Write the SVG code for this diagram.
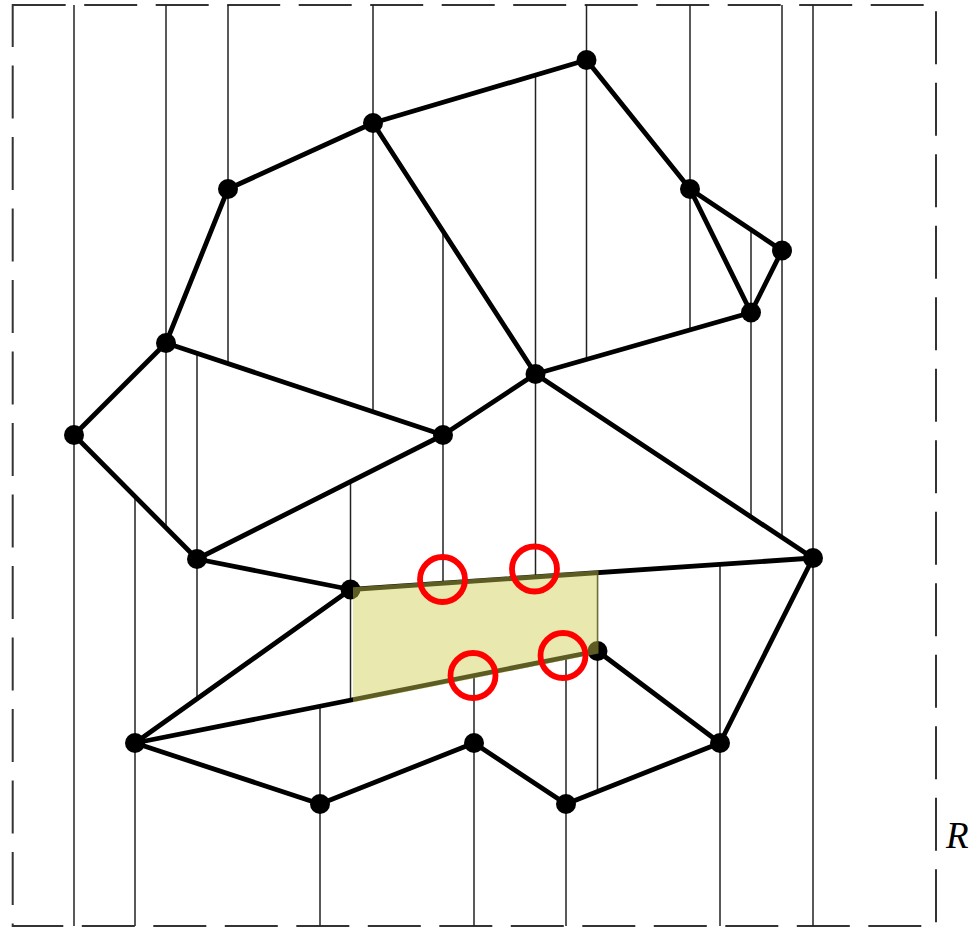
<svg xmlns="http://www.w3.org/2000/svg" width="978" height="928" viewBox="0 0 978 928">
<style>
.frame{fill:none;stroke:#333;stroke-width:2;stroke-dasharray:53 18.5}
.vl line{stroke:#222;stroke-width:1.5}
.edges line{stroke:#000;stroke-width:4.8;stroke-linecap:round}
.node circle{fill:#000}
.hl{fill:rgb(206,206,78);fill-opacity:0.45;stroke:none}
.mark{fill:none;stroke:#f00;stroke-width:5.8}
.lbl{font-family:"Liberation Serif",serif;font-style:italic;font-size:37px;fill:#000}
</style>
<rect class="frame" x="12.7" y="5" width="923.3" height="921"/>
<g id="verticals" class="vl">
<line x1="74" y1="5" x2="74" y2="926"/>
<line x1="135" y1="496.5" x2="135" y2="926"/>
<line x1="166" y1="5" x2="166" y2="527.7"/>
<line x1="197" y1="353.3" x2="197" y2="698.8"/>
<line x1="228" y1="5" x2="228" y2="363.6"/>
<line x1="320" y1="706.2" x2="320" y2="926"/>
<line x1="350.5" y1="481.6" x2="350.5" y2="700.1"/>
<line x1="373" y1="5" x2="373" y2="411.8"/>
<line x1="443" y1="231.1" x2="443" y2="583.2"/>
<line x1="474" y1="675.6" x2="474" y2="926"/>
<line x1="535.5" y1="75" x2="535.5" y2="576.9"/>
<line x1="566" y1="657.3" x2="566" y2="926"/>
<line x1="586.5" y1="5" x2="586.5" y2="359.4"/>
<line x1="597.5" y1="572.7" x2="597.5" y2="791.5"/>
<line x1="690" y1="5" x2="690" y2="329.9"/>
<line x1="720" y1="564.3" x2="720" y2="926"/>
<line x1="751" y1="229.8" x2="751" y2="516.9"/>
<line x1="782" y1="5" x2="782" y2="537.4"/>
<line x1="813" y1="5" x2="813" y2="926"/>
</g>
<g id="connectors" class="edges">
<line x1="586.5" y1="60" x2="373" y2="123"/>
<line x1="586.5" y1="60" x2="690" y2="189"/>
<line x1="373" y1="123" x2="228" y2="189"/>
<line x1="373" y1="123" x2="535.5" y2="374"/>
<line x1="228" y1="189" x2="166" y2="343"/>
<line x1="690" y1="189" x2="782" y2="250.5"/>
<line x1="690" y1="189" x2="751" y2="312.5"/>
<line x1="782" y1="250.5" x2="751" y2="312.5"/>
<line x1="751" y1="312.5" x2="535.5" y2="374"/>
<line x1="166" y1="343" x2="74" y2="435"/>
<line x1="166" y1="343" x2="443" y2="435"/>
<line x1="74" y1="435" x2="197" y2="559"/>
<line x1="197" y1="559" x2="443" y2="435"/>
<line x1="443" y1="435" x2="535.5" y2="374"/>
<line x1="535.5" y1="374" x2="813" y2="558"/>
<line x1="197" y1="559" x2="350.5" y2="589.5"/>
<line x1="350.5" y1="589.5" x2="813" y2="558"/>
<line x1="350.5" y1="589.5" x2="135" y2="743"/>
<line x1="135" y1="743" x2="597.5" y2="651"/>
<line x1="597.5" y1="651" x2="720" y2="743"/>
<line x1="813" y1="558" x2="720" y2="743"/>
<line x1="135" y1="743" x2="320" y2="804"/>
<line x1="320" y1="804" x2="474" y2="743"/>
<line x1="474" y1="743" x2="566" y2="804"/>
<line x1="566" y1="804" x2="720" y2="743"/>
</g>
<g id="nA" class="node"><circle cx="586.5" cy="60" r="10"/></g>
<g id="nB" class="node"><circle cx="373" cy="123" r="10"/></g>
<g id="nC" class="node"><circle cx="228" cy="189" r="10"/></g>
<g id="nD" class="node"><circle cx="690" cy="189" r="10"/></g>
<g id="nE" class="node"><circle cx="782" cy="250.5" r="10"/></g>
<g id="nF" class="node"><circle cx="751" cy="312.5" r="10"/></g>
<g id="nG" class="node"><circle cx="166" cy="343" r="10"/></g>
<g id="nH" class="node"><circle cx="535.5" cy="374" r="10"/></g>
<g id="nI" class="node"><circle cx="74" cy="435" r="10"/></g>
<g id="nJ" class="node"><circle cx="443" cy="435" r="10"/></g>
<g id="nK" class="node"><circle cx="197" cy="559" r="10"/></g>
<g id="nL" class="node"><circle cx="813" cy="558" r="10"/></g>
<g id="nM" class="node"><circle cx="350.5" cy="589.5" r="10"/></g>
<g id="nN" class="node"><circle cx="597.5" cy="651" r="10"/></g>
<g id="nO" class="node"><circle cx="135" cy="743" r="10"/></g>
<g id="nP" class="node"><circle cx="474" cy="743" r="10"/></g>
<g id="nQ" class="node"><circle cx="720" cy="743" r="10"/></g>
<g id="nS" class="node"><circle cx="320" cy="804" r="10"/></g>
<g id="nT" class="node"><circle cx="566" cy="804" r="10"/></g>
<g id="region">
<polygon class="hl" points="353,587.2 598.5,570.4 598.5,653.4 353,702.6"/>
</g>
<g id="markers">
<circle class="mark" cx="442.5" cy="579.5" r="22.5"/>
<circle class="mark" cx="534.5" cy="569" r="22.5"/>
<circle class="mark" cx="473" cy="675.5" r="22.5"/>
<circle class="mark" cx="563" cy="655.5" r="22.5"/>
</g>
<text class="lbl" x="946" y="848">R</text>
</svg>
